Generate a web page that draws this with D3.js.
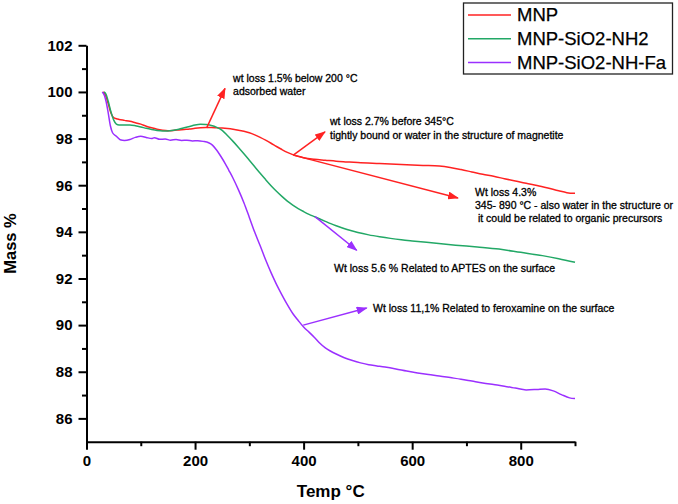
<!DOCTYPE html>
<html><head><meta charset="utf-8">
<script src="https://cdn.jsdelivr.net/npm/d3@7"></script>
<style>body{margin:0;background:#fff}svg{display:block}text{font-family:"Liberation Sans",Arial,sans-serif;fill:#000}</style>
</head><body><svg id="c" width="678" height="504"></svg>
<script>
// ---- data ----
const seriesNames = ["MNP", "MNP-SiO2-NH2", "MNP-SiO2-NH-Fa"];
const seriesColors = ["#ff2222", "#22a866", "#9b30ff"];

const mnpTemp = [30,35,40,45,50,55,60,70,80,90,100,110,120,130,140,150,160,170,180,190,200,210,220,230,240,250,260,270,280,290,300,310,320,330,340,350,360,370,380,390,400,420,440,460,480,500,540,580,620,650,670,690,710,730,750,770,790,810,830,850,870,885,900];
const mnpMass = [100.0,99.85,99.5,99.1,98.9,98.85,98.82,98.78,98.74,98.68,98.62,98.53,98.46,98.40,98.36,98.34,98.35,98.37,98.39,98.41,98.44,98.46,98.47,98.47,98.46,98.45,98.43,98.40,98.36,98.31,98.25,98.16,98.05,97.93,97.80,97.66,97.53,97.41,97.31,97.24,97.18,97.11,97.07,97.03,97.0,96.97,96.93,96.89,96.85,96.82,96.76,96.67,96.57,96.47,96.38,96.28,96.18,96.08,95.99,95.88,95.76,95.68,95.65];

const sio2Temp = [32,36,40,45,50,55,60,70,80,90,100,110,120,130,140,150,160,170,180,190,200,210,220,230,240,250,260,270,280,290,300,310,320,330,340,350,360,370,380,390,400,410,420,430,440,450,460,480,500,520,540,560,580,600,640,680,720,760,800,840,870,900];
const sio2Mass = [100.0,99.9,99.6,99.15,98.8,98.62,98.58,98.58,98.58,98.55,98.5,98.44,98.39,98.35,98.33,98.33,98.36,98.40,98.46,98.52,98.58,98.61,98.60,98.56,98.48,98.35,98.12,97.88,97.62,97.35,97.07,96.79,96.51,96.24,95.98,95.74,95.52,95.32,95.15,95.0,94.87,94.75,94.65,94.55,94.45,94.35,94.26,94.1,93.97,93.87,93.79,93.72,93.66,93.61,93.52,93.43,93.35,93.26,93.12,92.98,92.85,92.70];

const faTemp = [29,33,36,40,44,48,55,62,70,80,90,100,110,120,125,135,145,155,165,175,185,195,205,215,225,232,240,248,255,262,270,280,290,300,310,320,330,340,350,360,370,380,390,400,410,420,430,440,450,460,475,490,505,520,535,550,570,590,610,630,650,670,690,710,730,750,770,790,810,830,845,860,875,890,900];
const faMass = [100.0,99.85,99.6,99.1,98.55,98.25,98.1,97.95,97.92,97.96,98.05,98.1,98.05,98.0,98.04,97.97,97.98,97.93,97.96,97.92,97.93,97.90,97.91,97.88,97.82,97.72,97.5,97.22,96.95,96.65,96.3,95.8,95.25,94.62,93.98,93.4,92.8,92.25,91.75,91.3,90.88,90.5,90.2,89.92,89.7,89.47,89.22,89.02,88.88,88.76,88.6,88.48,88.38,88.3,88.25,88.2,88.12,88.03,87.95,87.88,87.82,87.75,87.68,87.6,87.52,87.45,87.38,87.3,87.22,87.24,87.26,87.18,87.02,86.88,86.85];

const xMajorTicks = [0,200,400,600,800];
const xMinorTicks = [100,300,500,700,900];
const yMajorTicks = [86,88,90,92,94,96,98,100,102];
const yMinorTicks = [87,89,91,93,95,97,99,101];

const xTitle = "Temp °C";
const yTitle = "Mass %";

// annotations: text lines anchored at (t, v); arrows from (t1,v1) to (t2,v2)
const annTexts = [
  {t:270, v:100.58, lines:["wt loss 1.5% below 200 °C","adsorbed water"]},
  {t:448.6, v:98.73, lines:["wt loss 2.7% before 345°C","tightly bound or water in the structure of magnetite"]},
  {t:715.8, v:95.70, lines:["Wt loss 4.3%","345- 890 °C - also water in the structure or"," it could be related to organic precursors"]},
  {t:456, v:92.45, lines:["Wt loss 5.6 % Related to APTES on the surface"]},
  {t:527.9, v:90.73, lines:["Wt loss 11,1% Related to feroxamine on the surface"]}
];
const annArrows = [
  {t1:221.4, v1:98.46, t2:255.2, v2:100.15, s:0},
  {t1:381, v1:97.29, t2:439.4, v2:98.29, s:0},
  {t1:381, v1:97.29, t2:684.4, v2:95.45, s:0},
  {t1:421, v1:94.65, t2:497.8, v2:93.21, s:2},
  {t1:399.4, v1:90.0, t2:516.2, v2:90.73, s:2}
];

// ---- drawing ----
const svg = d3.select("#c");
const x = d3.scaleLinear([0,900],[86.5,575]);
const y = d3.scaleLinear([85,102],[441.7,45.3]);

const defs = svg.append("defs");
seriesColors.forEach((c,i)=>{
  defs.append("marker").attr("id","ah"+i).attr("markerUnits","userSpaceOnUse")
    .attr("markerWidth",11).attr("markerHeight",8).attr("refX",10).attr("refY",4)
    .attr("orient","auto").append("path").attr("d","M0,0L11,4L0,8Z").attr("fill",c);
});

function styleAxis(g){
  g.selectAll("path,line").attr("stroke","#000").attr("stroke-width",2);
  g.selectAll("text").style("font-size","15px").style("font-weight","bold").attr("fill","#111");
}

svg.append("g").attr("transform",`translate(0,${y(85)})`)
  .call(d3.axisBottom(x).tickValues(xMinorTicks).tickSize(4.5).tickSizeOuter(0).tickFormat(""))
  .call(styleAxis);
svg.append("g").attr("transform",`translate(0,${y(85)})`)
  .call(d3.axisBottom(x).tickValues(xMajorTicks).tickSize(8).tickSizeOuter(0).tickPadding(6))
  .call(styleAxis).select(".domain").remove();

svg.append("g").attr("transform",`translate(${x(0)},0)`)
  .call(d3.axisLeft(y).tickValues(yMinorTicks).tickSize(4.5).tickSizeOuter(0).tickFormat(""))
  .call(styleAxis);
svg.append("g").attr("transform",`translate(${x(0)},0)`)
  .call(d3.axisLeft(y).tickValues(yMajorTicks).tickSize(8).tickSizeOuter(0).tickPadding(6))
  .call(styleAxis).select(".domain").remove();

svg.append("text").attr("x",(x.range()[0]+x.range()[1])/2).attr("y",491.5).attr("dy","0.35em")
  .attr("text-anchor","middle").style("font-size","17px").style("font-weight","bold").attr("fill","#111").text(xTitle);
svg.append("text").attr("transform",`translate(10,${(y.range()[0]+y.range()[1])/2}) rotate(-90)`)
  .attr("dy","0.35em").attr("text-anchor","middle").style("font-size","16.5px").style("font-weight","bold").attr("fill","#111").text(yTitle);

const line = d3.line().x(d=>x(d[0])).y(d=>y(d[1])).curve(d3.curveMonotoneX);
const series = [d3.zip(mnpTemp,mnpMass), d3.zip(sio2Temp,sio2Mass), d3.zip(faTemp,faMass)];
series.forEach((s,i)=>{
  svg.append("path").datum(s).attr("d",line).attr("fill","none")
    .attr("stroke",seriesColors[i]).attr("stroke-width",1.5);
});

annArrows.forEach(a=>{
  svg.append("line").attr("x1",x(a.t1)).attr("y1",y(a.v1)).attr("x2",x(a.t2)).attr("y2",y(a.v2))
    .attr("stroke",seriesColors[a.s]).attr("stroke-width",1.5).attr("marker-end",`url(#ah${a.s})`);
});

annTexts.forEach(a=>{
  const t = svg.append("text").attr("x",x(a.t)).attr("y",y(a.v)).style("font-size","10.5px")
    .style("white-space","pre").attr("stroke","#000").attr("stroke-width",0.3);
  a.lines.forEach((l,i)=>{
    t.append("tspan").attr("x",x(a.t)).attr("dy", i===0 ? "0.35em" : "13.3px").text(l);
  });
});

// legend
const lg = svg.append("g");
lg.append("rect").attr("x",463.5).attr("y",3).attr("width",209).attr("height",71)
  .attr("fill","#fff").attr("stroke","#222").attr("stroke-width",1.3);
seriesNames.forEach((n,i)=>{
  const yy = 15 + i*23.8;
  lg.append("line").attr("x1",468).attr("x2",511).attr("y1",yy).attr("y2",yy)
    .attr("stroke",seriesColors[i]).attr("stroke-width",1.5);
  lg.append("text").attr("x",517).attr("y",yy).attr("dy","0.35em").style("font-size","18.5px")
    .attr("stroke","#000").attr("stroke-width",0.25).text(n);
});
</script></body></html>
